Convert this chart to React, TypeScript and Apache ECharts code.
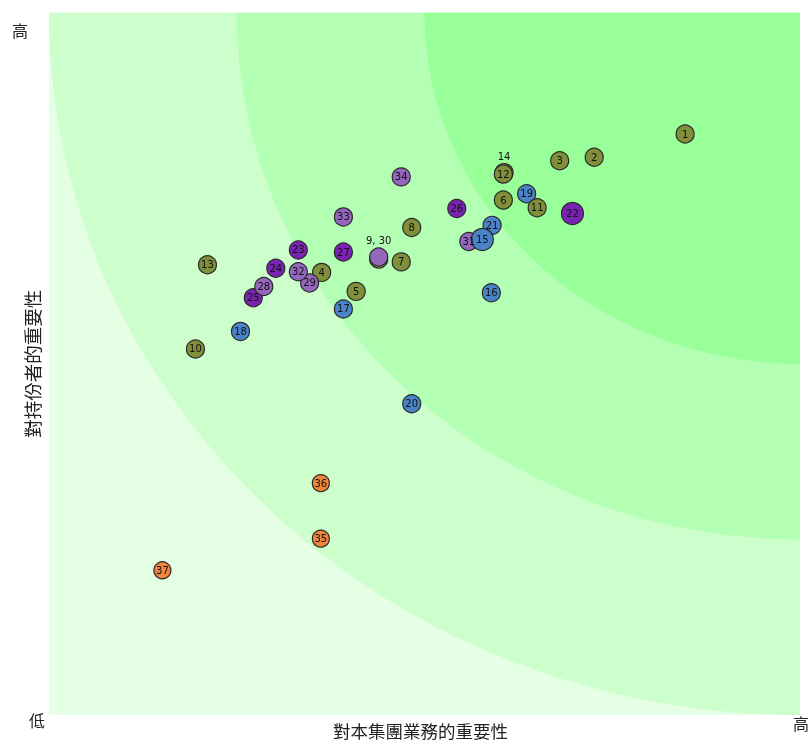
import React, { useEffect, useRef } from "react";
import * as echarts from "echarts";

// ---- data ----
const pointIds = [
  1, 2, 3, 4, 5, 6, 7, 8, 9, 10, 11, 12, 13, 14, 15, 16, 17, 18, 19, 20,
  21, 22, 23, 24, 25, 26, 27, 28, 29, 30, 31, 32, 33, 34, 35, 36, 37,
];
const xValues = [
  8.47, 7.26, 6.8, 3.63, 4.09, 6.05, 4.69, 4.83, 4.39, 1.95, 6.5, 6.05, 2.11,
  6.06, 5.77, 5.89, 3.92, 2.55, 6.36, 4.83, 5.9, 6.97, 3.32, 3.02, 2.72, 5.43,
  3.92, 2.86, 3.47, 4.39, 5.59, 3.32, 3.92, 4.69, 3.62, 3.62, 1.51,
];
const yValues = [
  8.27, 7.94, 7.89, 6.3, 6.03, 7.33, 6.45, 6.94, 6.49, 5.21, 7.22, 7.7, 6.41,
  7.72, 6.77, 6.01, 5.78, 5.46, 7.42, 4.43, 6.97, 7.14, 6.62, 6.36, 5.94, 7.21,
  6.59, 6.1, 6.15, 6.52, 6.74, 6.31, 7.09, 7.66, 2.51, 3.3, 2.06,
];
// group of each point: 0 olive, 1 blue, 2 dark purple, 3 light purple, 4 orange
const pointGroups = [
  0, 0, 0, 0, 0, 0, 0, 0, 0, 0, 0, 0, 0, 0, 1, 1, 1, 1, 1, 1, 1, 2, 2, 2, 2,
  2, 2, 3, 3, 3, 3, 3, 3, 3, 4, 4, 4,
];
const bigPoints = [15, 22];
// overlapping points: label drawn above instead of inside
const topLabels: Record<number, string> = { 14: "14", 30: "9, 30" };
const hiddenLabels = [9];
const drawOrder = [
  16, 17, 18, 19, 20, 21, 1, 2, 3, 4, 5, 6, 7, 8, 9, 10, 11, 14, 12, 13, 22,
  23, 24, 25, 26, 27, 28, 29, 30, 31, 32, 33, 34, 15, 35, 36, 37,
];

const bandRadii = [10, 7.5, 5];
const axisMin = 0;
const axisMax = 10;
const yTickLabels = ["低", "高"];
const xTickLabels = ["高"];
const xAxisName = "對本集團業務的重要性";
const yAxisName = "對持份者的重要性";

// ---- styles ----
const groupColors = ["#7f8f3a", "#4a84c8", "#7a22b4", "#9466be", "#f0843a"];
const bandColors = ["#ccffcc", "#b3ffb3", "#99ff99"];
const outerColor = "#e5ffe5";
const CJK = "'Noto Sans CJK TC', 'Noto Sans CJK SC', sans-serif";
const textColor = "#222";

export default function App() {
  const ref = useRef<HTMLDivElement>(null);

  useEffect(() => {
    if (!ref.current) return;
    const chart = echarts.init(ref.current, null, { renderer: "svg" });

    const scatterData = drawOrder.map((id) => {
      const i = pointIds.indexOf(id);
      const g = pointGroups[i];
      const size = bigPoints.includes(id) ? 22 : g === 4 ? 17 : 18;
      const top = topLabels[id];
      return {
        value: [xValues[i], yValues[i]],
        name: String(id),
        symbolSize: size,
        itemStyle: { color: groupColors[g] },
        label: top
          ? { show: true, position: "top", distance: 2, formatter: top }
          : hiddenLabels.includes(id)
          ? { show: false }
          : { show: true, position: "inside", formatter: String(id) },
      };
    });

    const bandData = bandRadii.map((r, i) => ({
      value: [r],
      itemStyle: { color: bandColors[i] },
    }));

    const tickText = (x: number, y: number, text: string) => ({
      type: "text",
      x,
      y,
      style: {
        text,
        fontFamily: CJK,
        fontSize: 16,
        fill: textColor,
        align: "center",
        verticalAlign: "middle",
      },
    });

    chart.setOption({
      animation: false,
      grid: {
        left: 49,
        top: 12.5,
        width: 751,
        height: 702.5,
        outerBoundsMode: "none",
        containLabel: false,
        show: true,
        backgroundColor: outerColor,
        borderWidth: 0,
      },
      xAxis: {
        type: "value",
        min: axisMin,
        max: axisMax,
        splitLine: { show: false },
        axisLine: { show: false },
        axisTick: { show: false },
        axisLabel: { show: false },
        name: xAxisName,
        nameLocation: "middle",
        nameGap: 6,
        nameTextStyle: {
          fontFamily: CJK,
          fontSize: 17.5,
          lineHeight: 18,
          color: textColor,
          padding: [0, 8, 0, 0],
        },
      },
      yAxis: {
        type: "value",
        min: axisMin,
        max: axisMax,
        splitLine: { show: false },
        axisLine: { show: false },
        axisTick: { show: false },
        axisLabel: { show: false },
        name: yAxisName,
        nameLocation: "middle",
        nameGap: 8,
        nameTextStyle: {
          fontFamily: CJK,
          fontSize: 18.5,
          lineHeight: 18.5,
          color: textColor,
        },
      },
      graphic: [
        tickText(20, 30, yTickLabels[1]),
        tickText(37, 720, yTickLabels[0]),
        tickText(801, 723, xTickLabels[0]),
      ],
      series: [
        {
          type: "custom",
          silent: true,
          clip: true,
          z: 1,
          data: bandData,
          renderItem: (params: any, api: any) => {
            const r = api.value(0);
            const pts: number[][] = [api.coord([axisMax, axisMax])];
            const n = 90;
            for (let k = 0; k <= n; k++) {
              const t = Math.PI + (k / n) * (Math.PI / 2);
              pts.push(
                api.coord([axisMax + r * Math.cos(t), axisMax + r * Math.sin(t)])
              );
            }
            return {
              type: "polygon",
              shape: { points: pts },
              style: { fill: bandColors[params.dataIndex] },
            };
          },
        },
        {
          type: "scatter",
          z: 3,
          symbol: "circle",
          data: scatterData,
          itemStyle: {
            opacity: 1,
            borderColor: "#2a2a2a",
            borderWidth: 1.2,
          },
          label: {
            color: "#111",
            fontSize: 10,
            fontFamily: "'DejaVu Sans', sans-serif",
          },
        },
      ],
    });

    return () => chart.dispose();
  }, []);

  return (
    <div
      ref={ref}
      style={{ position: "fixed", left: 0, top: 0, width: 810, height: 745 }}
    />
  );
}
